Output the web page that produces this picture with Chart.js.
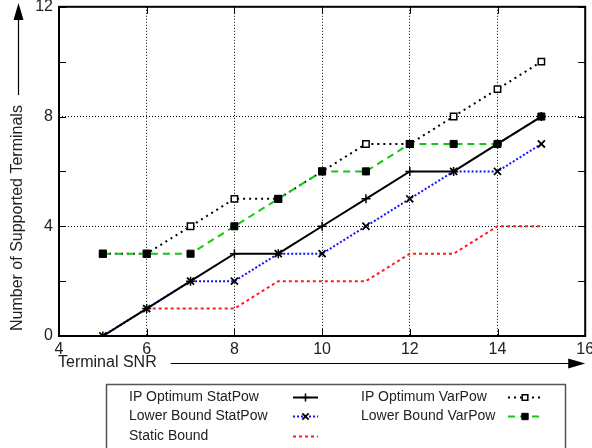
<!DOCTYPE html>
<html>
<head>
<meta charset="utf-8">
<script src="https://cdn.jsdelivr.net/npm/chart.js@4.4.1/dist/chart.umd.min.js"></script>
<style>
  html, body { margin: 0; padding: 0; background: #fff; }
  #chart { display: block; }
</style>
</head>
<body>
<canvas id="chart" width="592" height="448"></canvas>
<script>
// Values
const snr = [5, 6, 7, 8, 9, 10, 11, 12, 13, 14, 15];
const ipStatPow = [0, 1, 2, 3, 3, 4, 5, 6, 6, 7, 8];
const lbStatPow = [0, 1, 2, 2, 3, 3, 4, 5, 6, 6, 7];
const ipVarPow = [3, 3, 4, 5, 5, 6, 7, 7, 8, 9, 10];
const lbVarPow = [3, 3, 3, 4, 5, 6, 6, 7, 7, 7, 8];
const staticBound = [null, 1, 1, 1, 2, 2, 2, 3, 3, 4, 4];

const xTicks = [4, 6, 8, 10, 12, 14, 16];
const yTicks = [0, 4, 8, 12];
const yMinorTicks = [2, 6, 10];

const FONT = "'Liberation Sans', Arial, Helvetica, sans-serif";

// turn a y-array into {x, y} points
function pts(arr) {
    return snr.map((x, i) => ({ x: x, y: arr[i] }));
}

const ctx = document.getElementById('chart').getContext('2d');

const datasets = [
    {
        label: 'IP Optimum StatPow', data: pts(ipStatPow),
        borderColor: '#000', borderWidth: 2, borderDash: [],
        pointStyle: 'cross', pointRadius: 4.5, pointBorderWidth: 1.5,
        pointBorderColor: '#000', pointBackgroundColor: '#000', order: 1
    },
    {
        label: 'Lower Bound StatPow', data: pts(lbStatPow),
        borderColor: '#1010ff', borderWidth: 2, borderDash: [2, 2],
        pointStyle: 'crossRot', pointRadius: 5, pointBorderWidth: 1.8,
        pointBorderColor: '#000', pointBackgroundColor: '#000', order: 2
    },
    {
        label: 'Static Bound', data: pts(staticBound),
        borderColor: '#ff1a1a', borderWidth: 2, borderDash: [3, 3],
        pointRadius: 0, order: 5
    },
    {
        label: 'IP Optimum VarPow', data: pts(ipVarPow),
        borderColor: '#000', borderWidth: 2, borderDash: [2, 4],
        pointStyle: 'rect', pointRadius: 4.5, pointBorderWidth: 1.5,
        pointBorderColor: '#000', pointBackgroundColor: '#fff', order: 4
    },
    {
        label: 'Lower Bound VarPow', data: pts(lbVarPow),
        borderColor: '#12c812', borderWidth: 2, borderDash: [7, 5],
        pointStyle: 'rect', pointRadius: 5, pointBorderWidth: 1,
        pointBorderColor: '#000', pointBackgroundColor: '#000', order: 3
    }
];

// frame, minor ticks, axis titles with arrows and the boxed legend
const decorations = {
    id: 'decorations',
    beforeDatasetsDraw(chart) {
        const c = chart.ctx;
        const a = chart.chartArea;
        const ys = chart.scales.y;
        const xs = chart.scales.x;
        c.save();
        c.strokeStyle = '#000';
        c.lineWidth = 1;
        // minor ticks on left and right edges
        yMinorTicks.forEach(v => {
            const py = Math.round(ys.getPixelForValue(v)) + 0.5;
            c.beginPath();
            c.moveTo(a.left, py); c.lineTo(a.left + 7, py);
            c.moveTo(a.right, py); c.lineTo(a.right - 7, py);
            c.stroke();
        });
        // major ticks on the inside
        yTicks.forEach(v => {
            const py = Math.round(ys.getPixelForValue(v)) + 0.5;
            c.beginPath();
            c.moveTo(a.left, py); c.lineTo(a.left + 7, py);
            c.moveTo(a.right, py); c.lineTo(a.right - 7, py);
            c.stroke();
        });
        xTicks.forEach(v => {
            const px = Math.round(xs.getPixelForValue(v)) + 0.5;
            c.beginPath();
            c.moveTo(px, a.bottom); c.lineTo(px, a.bottom - 7);
            c.moveTo(px, a.top); c.lineTo(px, a.top + 7);
            c.stroke();
        });
        // frame
        c.lineWidth = 2;
        c.strokeRect(a.left, a.top, a.right - a.left, a.bottom - a.top);
        c.restore();
    },
    afterDraw(chart) {
        const c = chart.ctx;
        const a = chart.chartArea;
        c.save();
        c.fillStyle = '#222';
        c.strokeStyle = '#000';
        c.font = '16px ' + FONT;
        c.textBaseline = 'middle';

        // x title + arrow
        const xt = 'Terminal SNR';
        c.textAlign = 'left';
        c.fillText(xt, 58, 363);
        const xEnd = 58 + c.measureText(xt).width;
        c.lineWidth = 1.2;
        c.beginPath();
        c.moveTo(xEnd + 14, 363.5); c.lineTo(a.right - 14, 363.5);
        c.stroke();
        c.fillStyle = '#000';
        c.beginPath();
        c.moveTo(a.right, 363.5);
        c.lineTo(a.right - 17, 358.5);
        c.lineTo(a.right - 17, 368.5);
        c.closePath();
        c.fill();

        // y title + arrow
        const yt = 'Number of Supported Terminals';
        c.fillStyle = '#222';
        c.save();
        c.translate(18, 331);
        c.rotate(-Math.PI / 2);
        c.fillText(yt, 0, 0);
        c.restore();
        const yEnd = 331 - c.measureText(yt).width;
        c.beginPath();
        c.moveTo(18.5, yEnd - 10); c.lineTo(18.5, 18);
        c.stroke();
        c.fillStyle = '#000';
        c.beginPath();
        c.moveTo(18.5, 3);
        c.lineTo(13.5, 20);
        c.lineTo(23.5, 20);
        c.closePath();
        c.fill();

        // legend box
        c.strokeStyle = '#555';
        c.lineWidth = 1.5;
        c.strokeRect(106.5, 384.5, 459, 80);

        const rows = [397, 416, 436];
        const entries = [
            { ds: 0, tx: 129, sx: 293, ex: 318, row: 0 },
            { ds: 1, tx: 129, sx: 293, ex: 318, row: 1 },
            { ds: 2, tx: 129, sx: 293, ex: 318, row: 2 },
            { ds: 3, tx: 361, sx: 508, ex: 542, row: 0 },
            { ds: 4, tx: 361, sx: 508, ex: 542, row: 1 }
        ];
        c.font = '14px ' + FONT;
        entries.forEach(e => {
            const d = chart.data.datasets[e.ds];
            const y = rows[e.row];
            c.fillStyle = '#222';
            c.textAlign = 'left';
            c.fillText(d.label, e.tx, y);
            c.save();
            c.strokeStyle = d.borderColor;
            c.lineWidth = d.borderWidth;
            c.setLineDash(d.borderDash || []);
            c.beginPath();
            c.moveTo(e.sx, y + 0.5); c.lineTo(e.ex, y + 0.5);
            c.stroke();
            c.restore();
            if (d.pointRadius > 0) {
                c.save();
                c.strokeStyle = d.pointBorderColor;
                c.fillStyle = d.pointBackgroundColor;
                c.lineWidth = d.pointBorderWidth;
                Chart.helpers.drawPoint(c, {
                    pointStyle: d.pointStyle, radius: d.pointRadius - 0.5,
                    rotation: 0, borderWidth: d.pointBorderWidth
                }, (e.sx + e.ex) / 2, y + 0.5);
                c.restore();
            }
        });
        c.restore();
    }
};

const chart = new Chart(ctx, {
    type: 'line',
    data: { datasets: datasets },
    options: {
        responsive: false,
        animation: false,
        events: [],
        layout: { padding: { left: 0, top: 6, right: 2, bottom: 0 } },
        plugins: {
            legend: { display: false },
            tooltip: { enabled: false }
        },
        elements: { line: { tension: 0, fill: false } },
        scales: {
            x: {
                type: 'linear', min: 4, max: 16,
                afterBuildTicks: s => { s.ticks = xTicks.map(v => ({ value: v })); },
                afterFit: s => { s.height = 112; s.paddingLeft = 0; s.paddingRight = 0; },
                ticks: { color: '#222', font: { size: 16, family: FONT }, padding: 4, maxRotation: 0 },
                grid: {
                    drawTicks: false,
                    color: c => (c.tick && c.tick.value > 4 && c.tick.value < 16) ? '#000' : 'rgba(0,0,0,0)',
                    lineWidth: 1
                },
                border: { display: false, dash: [1, 2] }
            },
            y: {
                min: 0, max: 12,
                afterBuildTicks: s => { s.ticks = yTicks.map(v => ({ value: v })); },
                afterFit: s => { s.width = 59; s.paddingTop = 0; s.paddingBottom = 0; },
                ticks: { color: '#222', font: { size: 16, family: FONT }, padding: 6 },
                grid: {
                    drawTicks: false,
                    color: c => (c.tick && c.tick.value > 0 && c.tick.value < 12) ? '#000' : 'rgba(0,0,0,0)',
                    lineWidth: 1
                },
                border: { display: false, dash: [1, 2] }
            }
        }
    },
    plugins: [decorations]
});
</script>
</body>
</html>
